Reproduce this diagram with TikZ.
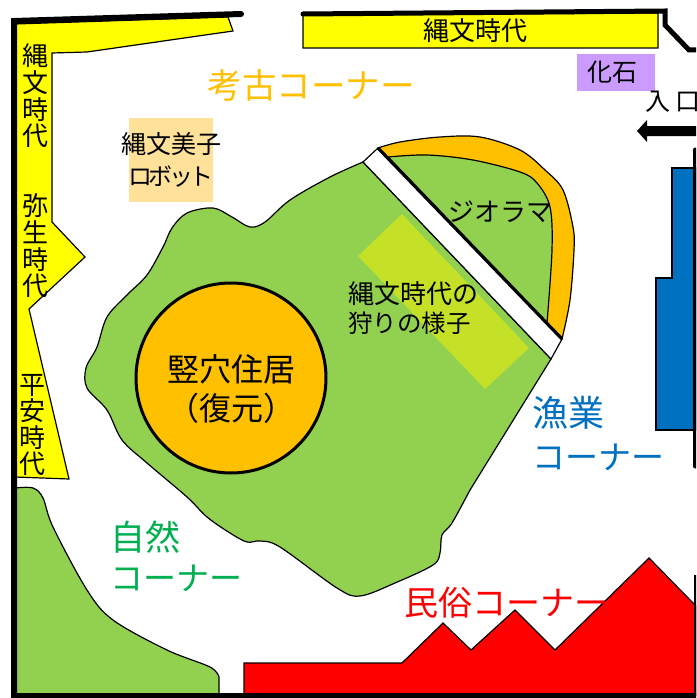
\documentclass[tikz,border=0pt]{standalone}
\usepackage{fontspec}
\newfontfamily\cjk{Noto Sans CJK JP}
\definecolor{grn}{HTML}{92D050}
\definecolor{lime}{HTML}{C4E128}
\definecolor{org}{HTML}{FFC000}
\definecolor{yel}{HTML}{FFFF00}
\definecolor{blu}{HTML}{0070C0}
\definecolor{pur}{HTML}{CC9BFF}
\definecolor{tan2}{HTML}{FFE199}
\definecolor{grn2}{HTML}{00B050}
\newcommand{\fsz}[2]{\fontsize{#1}{#2}\selectfont}
\tikzset{
  thin line/.style={draw=black,line width=1.2pt,line join=miter},
  wall/.style={draw=black,line width=6pt,line join=miter},
  lbl/.style={inner sep=0pt,outer sep=0pt,align=center,font=\cjk\fontsize{#1}{#1}\selectfont},
  lbl/.default=26,
  vlbl/.style={inner sep=0pt,outer sep=0pt,align=center,font=\cjk\fontsize{26}{26.6}\selectfont},
}
\begin{document}
\begin{tikzpicture}[x=1pt,y=-1pt]
\useasboundingbox (0,0) rectangle (696,698);
\clip (0,0) rectangle (696,698);
\fill[white] (0,0) rectangle (696,698);
% main garden
\draw[thin line,fill=grn] (363,162) -- (551,359) -- (470,490) --
  plot[smooth,tension=.55] coordinates {(470,490) (452,523) (442,535) (440,553) (433,565) (395,583) (360,596) (337,588) (280,547) (260,541) (247,542) (230,533) (207,517) (187,497) (147,463) (122,440) (107,410) (87,388) (86,368) (97,347) (107,317) (127,295) (147,275) (163,247) (172,228) (187,213) (213,208) (232,217) (250,227) (265,222) (290,200) (330,177) (363,162)} -- cycle;
% hunting scene
\fill[lime] (402,214) -- (529,348) -- (485,389) -- (358,256) -- cycle;
% white band
\draw[thin line,fill=white] (363,162) -- (378,148) -- (562,339) -- (551,359) -- cycle;
% diorama
\draw[thin line,fill=org] (378,148) -- plot[smooth,tension=.55] coordinates {(378,148) (400,142) (440,137) (480,137) (520,150) (545,170) (563,190) (573,227) (574,250) (570,300) (562,339)} -- cycle;
\draw[thin line,fill=grn] (388,157) -- plot[smooth,tension=.55] coordinates {(388,157) (427,155) (473,160) (520,172) (537,183) (550,207) (552,250) (547,323)} -- cycle;
\draw[black,line width=3.2pt] (378,148) -- (562,339);
% house
\draw[black,line width=3pt,fill=org] (231,378) circle (95);
% yellow areas
\draw[thin line,fill=yel] (15,24) -- (228,17) -- (233,31) -- (87,52) -- (52,53) -- (52,222) -- (85,257) -- (29,309) -- (69,479) -- (15,477) -- cycle;
\draw[thin line,fill=yel] (303,15) -- (658,13) -- (658,48) -- (303,48) -- cycle;
% colour blocks
\fill[pur] (577,54) rectangle (655,91);
\fill[tan2] (129,118) rectangle (213,202);
% lower left green
\draw[thin line,fill=grn] (15,488) -- plot[smooth,tension=.55] coordinates {(15,488) (33,488) (43,498) (53,527) (87,590) (113,620) (167,650) (210,667) (219,677)} -- (219,696) -- (15,696) -- cycle;
% fishing block
\draw[thin line,fill=blu] (696,168) -- (672,168) -- (672,278) -- (656,278) -- (656,430) -- (696,430) -- cycle;
% folk block
\draw[thin line,fill=red] (244,696) -- (244,663) -- (402,663) -- (443,623) -- (471,650) -- (515,610) -- (555,650) -- (649,558) -- (696,606) -- (696,696) -- cycle;
% walls
\draw[wall,line cap=round] (241,14) -- (14,21) -- (14,696) -- (696,696);
\draw[wall,line width=5pt,line cap=round] (303,14) -- (665,11) -- (665,25) -- (689,50) -- (700,50);
\draw[wall,line width=5pt,line cap=round] (695,150) -- (695,466);
\draw[wall,line width=3pt] (695.5,575) -- (695.5,696);
% entrance arrow
\fill[black] (637,131) -- (647,120) -- (647,126) -- (700,126) -- (700,136) -- (647,136) -- (647,142) -- cycle;
% labels
\node[vlbl] (v1) at (35,96) {縄\\文\\時\\代};
\node[vlbl] (v2) at (35,246) {弥\\生\\時\\代};
\node[vlbl] (v3) at (32,425) {平\\安\\時\\代};
\node[lbl] (t1) at (475,31) {縄文時代};
\node[lbl=34.5,text=org] (t2) at (311,85) {考古コーナー};
\node[lbl=25] (t3) at (612,72) {化石};
\node[lbl=25,anchor=west] (t4) at (645,102) {入 口};
\node[lbl=25,font=\cjk\fontsize{25}{32}\selectfont] (t5) at (171,160) {縄文美子\\{\fsz{24}{32}\addfontfeature{LetterSpace=-16}ロボット}};
\node[lbl=26] (t6) at (500,212) {ジオラマ};
\node[lbl=25,font=\cjk\fontsize{26}{28.5}\selectfont,align=left] (t7) at (413,308) {縄文時代の\\{\fsz{24.5}{28.5}狩りの様子}};
\node[lbl=32,font=\cjk\fontsize{32}{39}\selectfont] (t8) at (231,389) {竪穴住居\\（復元）};
\node[lbl=34,text=blu,font=\cjk\fontsize{36}{43}\selectfont,align=left,anchor=west] (t9) at (532,433) {漁業\\{\fsz{33}{43}コーナー}};
\node[lbl=34,text=grn2,font=\cjk\fontsize{35}{40}\selectfont,align=left,anchor=west] (t10) at (110,556) {自然\\{\fsz{33}{40}コーナー}};
\node[lbl=34,text=red] (t11) at (506,603) {民俗コーナー};
\end{tikzpicture}
\end{document}
